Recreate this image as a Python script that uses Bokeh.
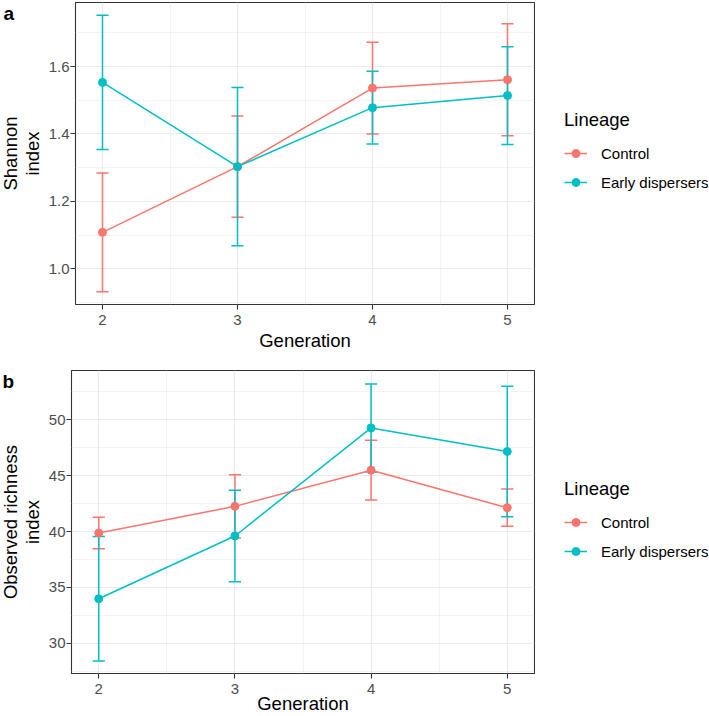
import math
from bokeh.plotting import figure
from bokeh.layouts import column, row
from bokeh.models import (FixedTicker, PrintfTickFormatter, Legend, LegendItem,
                          Label)
from bokeh.embed import file_html
from bokeh.resources import INLINE

# Generations sampled
generation = [2, 3, 4, 5]
lineages = ["Control", "Early dispersers"]
colors = ["#F8766D", "#00BFC4"]

# Shannon index: mean and error (mean ± err) per generation
shannon_control = [1.108, 1.303, 1.536, 1.561]
shannon_control_err = [0.176, 0.150, 0.136, 0.166]
shannon_early = [1.553, 1.303, 1.478, 1.514]
shannon_early_err = [0.199, 0.235, 0.108, 0.145]

# Observed richness index: mean and error per generation
richness_control = [39.87, 42.26, 45.50, 42.14]
richness_control_err = [1.41, 2.84, 2.67, 1.67]
richness_early = [33.99, 39.61, 49.28, 47.17]
richness_early_err = [5.58, 4.09, 3.94, 5.83]

# Axis ticks
x_ticks = [2, 3, 4, 5]
x_minor = [2.5, 3.5, 4.5]
shannon_ticks = [1.0, 1.2, 1.4, 1.6]
shannon_minor = [0.9, 1.1, 1.3, 1.5, 1.7]
richness_ticks = [30, 35, 40, 45, 50]
richness_minor = [27.5, 32.5, 37.5, 42.5, 47.5, 52.5]

FONT = "Liberation Sans"
CAP = 0.045
H = 358          # height of each panel row
W_SIDE = 44      # strip holding the panel tag and the y-axis title
W_LEG = 174      # strip holding the legend


def blank_strip(width):
    s = figure(width=width, height=H, x_range=(0, 1), y_range=(0, 1),
               output_backend="svg", toolbar_location=None,
               x_axis_location=None, y_axis_location=None,
               min_border_left=0, min_border_right=0,
               min_border_top=0, min_border_bottom=0)
    s.grid.visible = False
    s.outline_line_color = None
    s.background_fill_color = "white"
    s.border_fill_color = "white"
    return s


def side_strip(tag, tag_xy, ylabel, ylabel_y):
    # positions are measured from the bottom of the panel frame
    s = blank_strip(W_SIDE)
    s.add_layout(Label(x=tag_xy[0], y=tag_xy[1], x_units="screen",
                       y_units="screen", text=tag, text_font=FONT,
                       text_font_size="19px", text_font_style="bold",
                       text_baseline="alphabetic", text_align="left",
                       text_color="black"))
    s.add_layout(Label(x=21, y=ylabel_y, x_units="screen", y_units="screen",
                       text=ylabel, angle=math.pi / 2, text_font=FONT,
                       text_font_size="18.5px", text_line_height=1.06,
                       text_align="center", text_baseline="middle",
                       text_color="black"))
    return s


def make_panel(series, yrange, yticks, yminor, yfmt, border, x_standoffs):
    left, top, bottom = border
    p = figure(width=709 - W_SIDE - W_LEG, height=H, x_range=(1.8, 5.2),
               y_range=yrange, output_backend="svg", toolbar_location=None,
               min_border_left=left, min_border_right=1,
               min_border_top=top, min_border_bottom=bottom)
    p.background_fill_color = "white"
    p.border_fill_color = "white"
    p.outline_line_color = "#333333"
    p.outline_line_width = 1.1

    p.xaxis.ticker = FixedTicker(ticks=x_ticks, minor_ticks=x_minor)
    p.yaxis.ticker = FixedTicker(ticks=yticks, minor_ticks=yminor)
    p.yaxis.formatter = PrintfTickFormatter(format=yfmt)
    p.xaxis.axis_label = "Generation"

    for ax in (p.xaxis, p.yaxis):
        ax.axis_line_color = None
        ax.major_tick_in = 0
        ax.major_tick_out = 5
        ax.major_tick_line_color = "#333333"
        ax.major_tick_line_width = 1.1
        ax.minor_tick_line_color = None
        ax.major_label_text_font = FONT
        ax.major_label_text_font_size = "15px"
        ax.major_label_text_color = "#4D4D4D"
        ax.axis_label_text_font = FONT
        ax.axis_label_text_font_size = "18.5px"
        ax.axis_label_text_font_style = "normal"
        ax.axis_label_text_color = "black"
    p.xaxis.major_label_standoff = x_standoffs[0]
    p.xaxis.axis_label_standoff = x_standoffs[1]
    p.yaxis.major_label_standoff = 1
    p.yaxis.axis_label_standoff = 0

    for g in (p.xgrid, p.ygrid):
        g.grid_line_color = "#EBEBEB"
        g.grid_line_width = 1.2
        g.minor_grid_line_color = "#EBEBEB"
        g.minor_grid_line_width = 0.6

    # error bars, then lines, then points (control under early within each layer)
    for (mean, err), col in zip(series, colors):
        lo = [m - e for m, e in zip(mean, err)]
        hi = [m + e for m, e in zip(mean, err)]
        p.segment(x0=generation, y0=lo, x1=generation, y1=hi,
                  line_color=col, line_width=1.5)
        p.segment(x0=[g - CAP for g in generation], y0=lo,
                  x1=[g + CAP for g in generation], y1=lo,
                  line_color=col, line_width=1.5)
        p.segment(x0=[g - CAP for g in generation], y0=hi,
                  x1=[g + CAP for g in generation], y1=hi,
                  line_color=col, line_width=1.5)
    for (mean, err), col in zip(series, colors):
        p.line(generation, mean, line_color=col, line_width=1.5)
    for (mean, err), col in zip(series, colors):
        p.scatter(generation, mean, size=8, fill_color=col, line_color=col)
    return p


def legend_strip(series, legend_bottom):
    # the strip's own view range (0..1) keeps these series out of sight;
    # they only supply the legend keys
    q = blank_strip(W_LEG)
    items = []
    for name, (mean, err), col in zip(lineages, series, colors):
        l = q.line(generation, mean, line_color=col, line_width=1.5)
        s = q.scatter(generation, mean, size=8, fill_color=col,
                      line_color=col)
        items.append(LegendItem(label=name, renderers=[l, s]))
    legend = Legend(items=items, location=(29, legend_bottom))
    legend.title = "Lineage"
    legend.title_text_font = FONT
    legend.title_text_font_size = "18.5px"
    legend.title_text_font_style = "normal"
    legend.title_text_color = "black"
    legend.title_standoff = 12
    legend.label_text_font = FONT
    legend.label_text_font_size = "15px"
    legend.label_text_color = "black"
    legend.glyph_width = 23
    legend.glyph_height = 20
    legend.label_height = 20
    legend.label_standoff = 14
    legend.spacing = 9
    legend.padding = 0
    legend.margin = 0
    legend.border_line_color = None
    legend.background_fill_alpha = 0
    q.add_layout(legend)
    return q


shannon_series = [(shannon_control, shannon_control_err),
                  (shannon_early, shannon_early_err)]
richness_series = [(richness_control, richness_control_err),
                   (richness_early, richness_early_err)]

pa = make_panel(shannon_series, (0.894, 1.790), shannon_ticks, shannon_minor,
                "%.1f", (75 - W_SIDE, 2, 54), (5, 2))
pb = make_panel(richness_series, (27.3, 54.42), richness_ticks,
                richness_minor, "%d", (71 - W_SIDE, 12, 43), (5, -4))

row_a = row(side_strip("a", (3, 291), "Shannon\nindex", 151),
            pa, legend_strip(shannon_series, 112), spacing=0)
row_b = row(side_strip("b", (2, 292), "Observed richness\nindex", 151.5),
            pb, legend_strip(richness_series, 112), spacing=0)

layout = column(row_a, row_b, spacing=0)

with open("out.html", "w") as f:
    f.write(file_html(layout, INLINE))
